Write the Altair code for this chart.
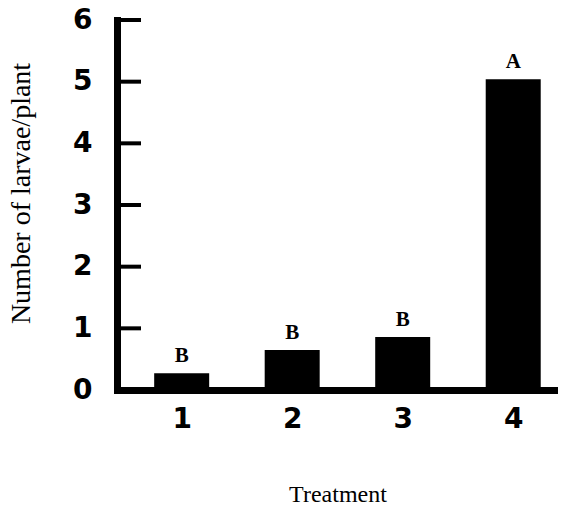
import altair as alt
import pandas as pd

treatments = [1, 2, 3, 4]
larvae = [0.27, 0.65, 0.86, 5.04]
letters = ["B", "B", "B", "A"]
y_ticks = [1, 2, 3, 4, 5, 6]

df = pd.DataFrame({"treatment": treatments, "larvae": larvae, "letter": letters})
ticks_df = pd.DataFrame({"v": y_ticks})

xscale = alt.Scale(domain=[0.46, 4.36], nice=False, zero=False)
yscale = alt.Scale(domain=[0, 6], nice=False)

x_axis = alt.Axis(
    title="Treatment", values=treatments, format="d", ticks=False, grid=False,
    domainWidth=7, domainColor="black", domainCap="square",
    labelFont="DejaVu Sans", labelFontWeight="bold", labelFontSize=28, labelColor="black",
    labelPadding=15, titleFont="Liberation Serif", titleFontSize=24, titleFontWeight="normal",
    titleColor="black", titlePadding=49,
)
y_axis = alt.Axis(
    title="Number of larvae/plant", values=[0, 1, 2, 3, 4, 5, 6], format="d",
    ticks=False, grid=False,
    domainWidth=7, domainColor="black", domainCap="square",
    labelFont="DejaVu Sans", labelFontWeight="bold", labelFontSize=28, labelColor="black",
    labelPadding=25, titleFont="Liberation Serif", titleFontSize=28, titleFontWeight="normal",
    titleColor="black", titlePadding=37, titleY=173,
)

bars = alt.Chart(df).mark_bar(color="black", size=55).encode(
    x=alt.X("treatment:Q", scale=xscale, axis=x_axis),
    y=alt.Y("larvae:Q", scale=yscale, axis=y_axis),
)

text = alt.Chart(df).mark_text(
    font="Liberation Serif", fontSize=21, fontWeight="bold", color="black",
    baseline="bottom", dy=-7,
).encode(
    x=alt.X("treatment:Q", scale=xscale),
    y=alt.Y("larvae:Q", scale=yscale),
    text="letter:N",
)

ticks = alt.Chart(ticks_df).mark_rule(color="black", strokeWidth=4).encode(
    y=alt.Y("v:Q", scale=yscale),
    x=alt.value(0),
    x2=alt.value(24),
)

chart = alt.layer(bars, text, ticks).properties(
    width=441, height=370,
    padding={"left": 109, "top": 12, "right": 0, "bottom": 117},
    autosize=alt.AutoSizeParams(type="none"),
).configure_view(stroke=None)

chart.save("out.html", embed_options={"renderer": "svg", "actions": False})
